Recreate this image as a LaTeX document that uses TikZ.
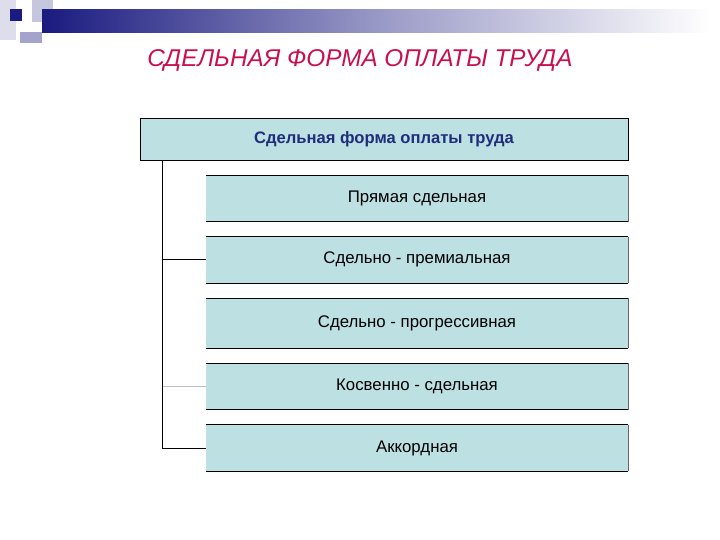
\documentclass[tikz,border=0pt]{standalone}
\usepackage{fontspec}
\setmainfont{Liberation Sans}
\usetikzlibrary{positioning}

\definecolor{boxfill}{RGB}{189,224,227}
\definecolor{headtext}{RGB}{31,45,122}
\definecolor{titlered}{RGB}{200,16,80}
\definecolor{navy}{RGB}{26,26,128}

\begin{document}
\begin{tikzpicture}[
        x=1pt, y=-1pt,
        node distance=15pt,
        headbox/.style={
            rectangle,
            minimum width=488pt,
            minimum height=42pt,
            text centered,
            draw=black,
            fill=boxfill,
            font=\fontsize{16.6}{18}\selectfont\bfseries,
            text=headtext
        },
        kindbox/.style={
            rectangle,
            minimum width=422pt,
            minimum height=46pt,
            text centered,
            fill=boxfill,
            font=\fontsize{16.8}{18}\selectfont
        },
        link/.style={
            line width=0.8pt
        }
    ]
        \useasboundingbox (0,0) rectangle (720,540);

        % slide decoration
        \fill[navy!15] (0,0) rectangle (16,40);
        \fill[navy!25] (32,0) rectangle (53,22);
        \shade[left color=navy, right color=white, middle color=navy!45] (42,10) rectangle (710,33);
        \fill[navy!40] (20,32) rectangle (42,43);
        \fill[navy] (10,9) rectangle (22,21);

        \node (title) [font=\fontsize{24.3}{26}\selectfont\itshape, text=titlered] at (360,60) {СДЕЛЬНАЯ ФОРМА ОПЛАТЫ ТРУДА};

        \node (top) [headbox] at (384,139) {Сдельная форма оплаты труда};
        \node (b1) [kindbox, below=15pt of top.south east, anchor=north east] {Прямая сдельная};
        \node (b2) [kindbox, below=of b1] {Сдельно - премиальная};
        \node (b3) [kindbox, below=of b2, minimum height=50pt] {Сдельно - прогрессивная};
        \node (b4) [kindbox, below=of b3] {Косвенно - сдельная};
        \node (b5) [kindbox, below=of b4] {Аккордная};

        \foreach \b in {b1,b2,b3,b4,b5} {
            \draw[link] (\b.north west) -- (\b.north east);
            \draw[link] (\b.south west) -- (\b.south east);
            \draw[black!60] (\b.north east) -- (\b.south east);
        }

        \coordinate (trunk) at ([xshift=23pt]top.south west);
        \draw[link] (trunk) |- (b5.west);
        \draw[link] (trunk |- b2.west) -- (b2.west);
        \draw[black!25] (trunk |- b4.west) -- (b4.west);

    \end{tikzpicture}
\end{document}
